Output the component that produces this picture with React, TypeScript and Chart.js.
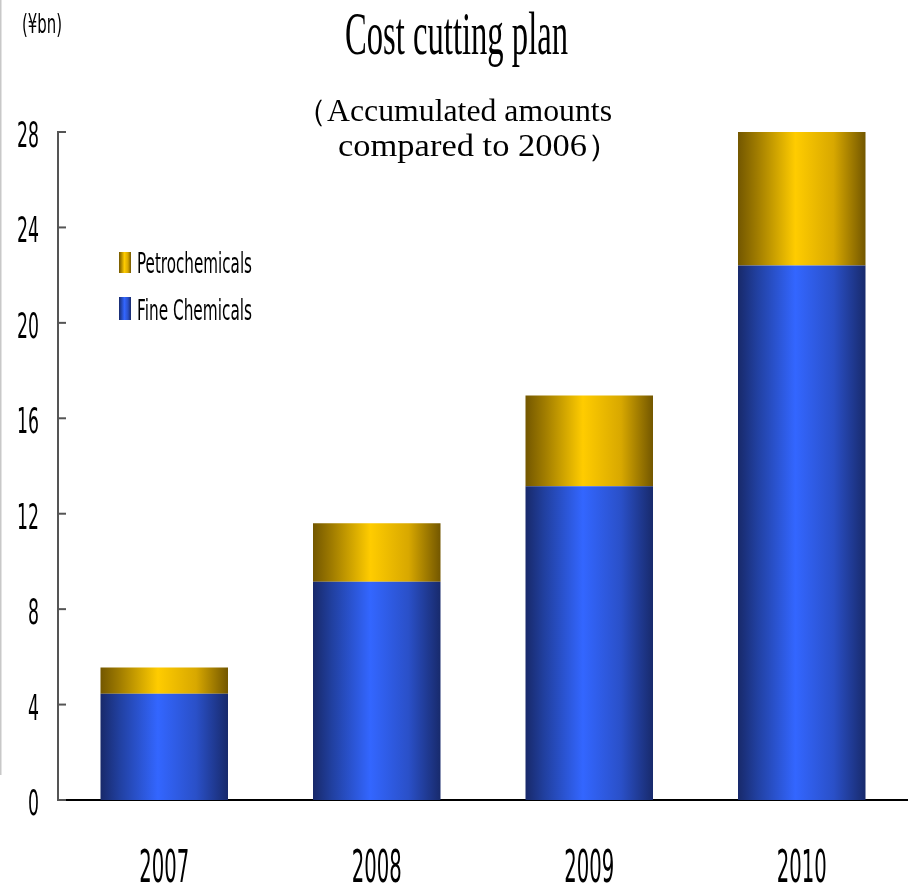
import React, { useEffect, useRef } from "react";
import { Chart, registerables } from "chart.js";

Chart.register(...registerables);

const categories = ["2007", "2008", "2009", "2010"];
const fineChemicals = [4.45, 9.15, 13.15, 22.4];
const petrochemicals = [1.1, 2.45, 3.8, 5.6];
const yTicks = [0, 4, 8, 12, 16, 20, 24, 28];
const titleText = "Cost cutting plan";
const subtitleLines = ["（Accumulated amounts", "compared to 2006）"];
const unitText = "(¥bn)";

const SANS = '"DejaVu Sans", "Liberation Sans", sans-serif';
const SERIF = '"Liberation Serif", "Times New Roman", serif';
const BAR_PCT = 0.6;

const blueStops: [number, string][] = [
  [0, "#18296a"],
  [0.15, "#2140a0"],
  [0.45, "#3366ff"],
  [0.75, "#2a50c8"],
  [1, "#182a6c"],
];
const goldStops: [number, string][] = [
  [0, "#735700"],
  [0.15, "#a07c00"],
  [0.45, "#ffcc00"],
  [0.75, "#d8a800"],
  [1, "#735700"],
];

function makeGrad(ctx: CanvasRenderingContext2D, x0: number, x1: number, stops: [number, string][]) {
  const g = ctx.createLinearGradient(x0, 0, x1, 0);
  stops.forEach(([o, c]) => g.addColorStop(o, c));
  return g;
}

function barFill(stops: [number, string][], solid: string) {
  return (c: any) => {
    const chart = c.chart;
    const xs = chart.scales && chart.scales.x;
    if (!chart.chartArea || !xs || c.type !== "data") return solid;
    const px = xs.getPixelForValue(c.dataIndex);
    const w = (xs.width / categories.length) * BAR_PCT;
    return makeGrad(chart.ctx, px - w / 2, px + w / 2, stops);
  };
}

function fitText(
  ctx: CanvasRenderingContext2D,
  text: string,
  x: number,
  y: number,
  font: string,
  targetWidth: number,
  align: CanvasTextAlign,
  color = "#000"
) {
  ctx.save();
  ctx.font = font;
  const w = ctx.measureText(text).width || 1;
  const sx = targetWidth / w;
  ctx.translate(x, y);
  ctx.scale(sx, 1);
  ctx.fillStyle = color;
  ctx.textAlign = align;
  ctx.textBaseline = "alphabetic";
  ctx.fillText(text, 0, 0);
  ctx.restore();
}

// Draw a line whose "core" part (without the full-width paren) spans [x0, x1]
function subtitleLine(
  ctx: CanvasRenderingContext2D,
  text: string,
  paren: string,
  parenFirst: boolean,
  x0: number,
  x1: number,
  y: number,
  font: string
) {
  ctx.save();
  ctx.font = font;
  const core = parenFirst ? text.slice(paren.length) : text.slice(0, text.length - paren.length);
  const coreW = ctx.measureText(core).width || 1;
  const parenW = ctx.measureText(paren).width;
  const sx = (x1 - x0) / coreW;
  const start = parenFirst ? x0 - parenW * sx : x0;
  ctx.translate(start, y);
  ctx.scale(sx, 1);
  ctx.fillStyle = "#000";
  ctx.textAlign = "left";
  ctx.textBaseline = "alphabetic";
  ctx.fillText(text, 0, 0);
  ctx.restore();
}

const decorPlugin = {
  id: "decor",
  afterDraw(chart: any) {
    const ctx: CanvasRenderingContext2D = chart.ctx;
    const yScale = chart.scales.y;
    const xScale = chart.scales.x;
    const area = chart.chartArea;

    // slide border line
    ctx.save();
    ctx.strokeStyle = "#c8c8c8";
    ctx.lineWidth = 1.5;
    ctx.beginPath();
    ctx.moveTo(0.75, 0);
    ctx.lineTo(0.75, 775);
    ctx.stroke();
    ctx.restore();

    // unit
    fitText(ctx, unitText, 42, 33, `27px ${SANS}`, 40, "center");

    // title
    fitText(ctx, titleText, 456.5, 54, `62px ${SERIF}`, 223, "center");
    // subtitle
    subtitleLine(ctx, subtitleLines[0], "（", true, 327, 612, 121, `31px ${SERIF}`);
    subtitleLine(ctx, subtitleLines[1], "）", false, 338, 587, 156, `31px ${SERIF}`);

    // y ticks
    ctx.save();
    ctx.strokeStyle = "#555";
    ctx.lineWidth = 2;
    yScale.ticks.forEach((t: any) => {
      const py = yScale.getPixelForValue(t.value);
      ctx.beginPath();
      ctx.moveTo(area.left, py);
      ctx.lineTo(area.left + 8, py);
      ctx.stroke();
      const s = String(t.value);
      fitText(ctx, s, 39, py + 15, `36px ${SANS}`, 11 * s.length, "right");
    });
    ctx.restore();

    // x labels
    chart.data.labels.forEach((lab: string, i: number) => {
      const px = xScale.getPixelForValue(i);
      fitText(ctx, lab, px, 882, `45px ${SANS}`, 50, "center");
    });

    // legend (Petrochemicals first)
    const items = [
      { ds: chart.data.datasets[1], top: 252, bottom: 273 },
      { ds: chart.data.datasets[0], top: 297, bottom: 320 },
    ];
    items.forEach(({ ds, top, bottom }) => {
      ctx.save();
      ctx.fillStyle = makeGrad(ctx, 119, 131, ds.gradStops);
      ctx.fillRect(119, top, 12, bottom - top);
      ctx.restore();
      fitText(ctx, ds.label, 137, bottom, `28px ${SANS}`, 115, "left");
    });
  },
};

export default function App() {
  const ref = useRef<HTMLCanvasElement>(null);
  useEffect(() => {
    if (!ref.current) return;
    const chart = new Chart(ref.current, {
      type: "bar",
      data: {
        labels: categories,
        datasets: [
          {
            label: "Fine Chemicals",
            data: fineChemicals,
            backgroundColor: barFill(blueStops, "#3366ff"),
            gradStops: blueStops,
            borderWidth: 0,
          } as any,
          {
            label: "Petrochemicals",
            data: petrochemicals,
            backgroundColor: barFill(goldStops, "#ffcc00"),
            gradStops: goldStops,
            borderWidth: 0,
          } as any,
        ],
      },
      options: {
        responsive: false,
        animation: false,
        layout: { padding: { left: 58, top: 132, right: -2, bottom: 84 } },
        plugins: {
          legend: { display: false },
          title: { display: false },
          tooltip: { enabled: false },
        },
        datasets: { bar: { categoryPercentage: 1, barPercentage: BAR_PCT } } as any,
        scales: {
          x: {
            stacked: true,
            grid: { display: false, drawTicks: false },
            ticks: { display: false },
            border: { display: true, color: "#000", width: 2 },
          },
          y: {
            stacked: true,
            min: 0,
            max: 28,
            afterBuildTicks: (scale: any) => {
              scale.ticks = yTicks.map((v) => ({ value: v }));
            },
            grid: { display: false, drawTicks: false },
            ticks: { display: false, stepSize: 4 },
            border: { display: true, color: "#555", width: 2 },
          },
        },
      },
      plugins: [decorPlugin],
    });
    return () => chart.destroy();
  }, []);
  return (
    <div style={{ position: "absolute", left: 0, top: 0, width: 908, height: 884, background: "#fff" }}>
      <canvas ref={ref} width={908} height={884} />
    </div>
  );
}
